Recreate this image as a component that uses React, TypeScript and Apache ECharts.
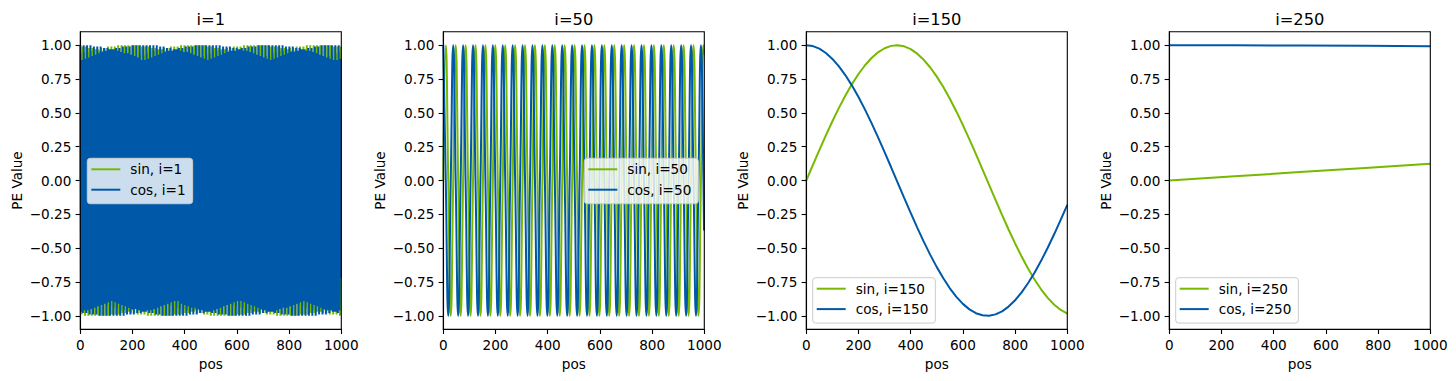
import React, { useEffect, useRef } from "react";
import * as echarts from "echarts";

// ---------- data ----------
const panelLabels = ["1", "50", "150", "250"];
const xTicks = [0, 200, 400, 600, 800, 1000];
const yTicks = [-1, -0.75, -0.5, -0.25, 0, 0.25, 0.5, 0.75, 1];

// i=1 : one value per pos (0..999)
const sin1 = [
0,.82,.94,.25,-.66,-.99,-.48,.45,.99,.68,-.22,-.93,-.84,
-.03,.81,.95,.27,-.64,-1,-.5,.43,.99,.69,-.19,-.92,-.85,
-.05,.79,.95,.29,-.62,-1,-.52,.41,.98,.71,-.17,-.91,-.86,
-.08,.78,.96,.32,-.6,-1,-.54,.38,.98,.73,-.14,-.9,-.88,
-.1,.76,.97,.34,-.58,-1,-.56,.36,.97,.75,-.12,-.88,-.89,
-.13,.74,.97,.37,-.55,-1,-.58,.33,.96,.77,-.09,-.87,-.9,
-.15,.72,.98,.39,-.53,-1,-.6,.31,.96,.78,-.07,-.86,-.91,
-.18,.71,.98,.41,-.51,-1,-.63,.29,.95,.8,-.04,-.84,-.92,
-.2,.69,.99,.44,-.49,-1,-.65,.26,.94,.81,-.02,-.83,-.93,
-.23,.67,.99,.46,-.47,-.99,-.66,.24,.93,.83,.01,-.82,-.94,
-.25,.65,.99,.48,-.44,-.99,-.68,.21,.92,.84,.04,-.8,-.95,
-.28,.63,1,.51,-.42,-.99,-.7,.18,.91,.85,.06,-.79,-.96,
-.3,.61,1,.53,-.4,-.98,-.72,.16,.9,.87,.09,-.77,-.96,
-.33,.59,1,.55,-.37,-.98,-.74,.13,.89,.88,.11,-.75,-.97,
-.35,.57,1,.57,-.35,-.97,-.76,.11,.88,.89,.14,-.74,-.98,
-.38,.55,1,.59,-.32,-.96,-.77,.08,.87,.9,.16,-.72,-.98,
-.4,.52,1,.61,-.3,-.95,-.79,.06,.85,.91,.19,-.7,-.99,
-.42,.5,1,.63,-.28,-.95,-.8,.03,.84,.93,.21,-.68,-.99,
-.45,.48,.99,.65,-.25,-.94,-.82,.01,.83,.93,.24,-.66,-.99,
-.47,.46,.99,.67,-.23,-.93,-.83,-.02,.81,.94,.26,-.64,-1,
-.49,.43,.99,.69,-.2,-.92,-.85,-.05,.79,.95,.29,-.62,-1,
-.52,.41,.98,.71,-.18,-.91,-.86,-.07,.78,.96,.31,-.6,-1,
-.54,.39,.98,.73,-.15,-.9,-.87,-.1,.76,.97,.34,-.58,-1,
-.56,.36,.97,.74,-.12,-.89,-.89,-.12,.75,.97,.36,-.56,-1,
-.58,.34,.97,.76,-.1,-.87,-.9,-.15,.73,.98,.39,-.54,-1,
-.6,.31,.96,.78,-.07,-.86,-.91,-.17,.71,.98,.41,-.52,-1,
-.62,.29,.95,.79,-.05,-.85,-.92,-.2,.69,.99,.43,-.49,-1,
-.64,.27,.94,.81,-.02,-.83,-.93,-.22,.67,.99,.46,-.47,-.99,
-.66,.24,.93,.82,0,-.82,-.94,-.25,.65,.99,.48,-.45,-.99,
-.68,.22,.93,.84,.03,-.8,-.95,-.27,.63,1,.5,-.43,-.99,
-.7,.19,.92,.85,.06,-.79,-.95,-.3,.61,1,.52,-.4,-.98,
-.72,.17,.9,.87,.08,-.77,-.96,-.32,.59,1,.55,-.38,-.98,
-.73,.14,.89,.88,.11,-.76,-.97,-.35,.57,1,.57,-.35,-.97,
-.75,.11,.88,.89,.13,-.74,-.97,-.37,.55,1,.59,-.33,-.96,
-.77,.09,.87,.9,.16,-.72,-.98,-.4,.53,1,.61,-.31,-.96,
-.78,.06,.86,.91,.18,-.7,-.98,-.42,.51,1,.63,-.28,-.95,
-.8,.04,.84,.92,.21,-.68,-.99,-.44,.49,1,.65,-.26,-.94,
-.82,.01,.83,.93,.23,-.67,-.99,-.47,.46,.99,.67,-.23,-.93,
-.83,-.01,.81,.94,.26,-.65,-1,-.49,.44,.99,.69,-.21,-.92,
-.84,-.04,.8,.95,.28,-.63,-1,-.51,.42,.98,.71,-.18,-.91,
-.86,-.07,.78,.96,.31,-.61,-1,-.53,.39,.98,.72,-.16,-.9,
-.87,-.09,.77,.96,.33,-.59,-1,-.55,.37,.97,.74,-.13,-.89,
-.88,-.12,.75,.97,.36,-.56,-1,-.57,.34,.97,.76,-.1,-.88,
-.89,-.14,.73,.98,.38,-.54,-1,-.6,.32,.96,.77,-.08,-.86,
-.91,-.17,.71,.98,.4,-.52,-1,-.62,.3,.95,.79,-.05,-.85,
-.92,-.19,.7,.99,.43,-.5,-1,-.64,.27,.95,.81,-.03,-.84,
-.93,-.22,.68,.99,.45,-.48,-.99,-.66,.25,.94,.82,0,-.82,
-.94,-.24,.66,.99,.47,-.45,-.99,-.68,.22,.93,.84,.02,-.81,
-.94,-.27,.64,1,.5,-.43,-.99,-.69,.2,.92,.85,.05,-.79,
-.95,-.29,.62,1,.52,-.41,-.98,-.71,.17,.91,.86,.08,-.78,
-.96,-.32,.6,1,.54,-.38,-.98,-.73,.15,.9,.88,.1,-.76,
-.97,-.34,.58,1,.56,-.36,-.97,-.75,.12,.88,.89,.13,-.74,
-.97,-.37,.56,1,.58,-.34,-.97,-.76,.09,.87,.9,.15,-.73,
-.98,-.39,.53,1,.6,-.31,-.96,-.78,.07,.86,.91,.18,-.71,
-.98,-.41,.51,1,.62,-.29,-.95,-.8,.04,.85,.92,.2,-.69,
-.99,-.44,.49,1,.64,-.26,-.94,-.81,.02,.83,.93,.23,-.67,
-.99,-.46,.47,.99,.66,-.24,-.93,-.83,-.01,.82,.94,.25,-.65,
-.99,-.48,.44,.99,.68,-.21,-.92,-.84,-.03,.8,.95,.28,-.63,
-1,-.51,.42,.99,.7,-.19,-.91,-.85,-.06,.79,.96,.3,-.61,
-1,-.53,.4,.98,.72,-.16,-.9,-.87,-.09,.77,.96,.33,-.59,
-1,-.55,.37,.98,.74,-.14,-.89,-.88,-.11,.75,.97,.35,-.57,
-1,-.57,.35,.97,.75,-.11,-.88,-.89,-.14,.74,.98,.38,-.55,
-1,-.59,.33,.96,.77,-.08,-.87,-.9,-.16,.72,.98,.4,-.53,
-1,-.61,.3,.96,.79,-.06,-.85,-.91,-.19,.7,.99,.42,-.5,
-1,-.63,.28,.95,.8,-.03,-.84,-.92,-.21,.68,.99,.45,-.48,
-.99,-.65,.25,.94,.82,-.01,-.83,-.93,-.24,.66,.99,.47,-.46,
-.99,-.67,.23,.93,.83,.02,-.81,-.94,-.26,.64,1,.49,-.44,
-.99,-.69,.2,.92,.85,.04,-.8,-.95,-.29,.62,1,.51,-.41,
-.98,-.71,.18,.91,.86,.07,-.78,-.96,-.31,.6,1,.54,-.39,
-.98,-.73,.15,.9,.87,.1,-.76,-.97,-.34,.58,1,.56,-.36,
-.97,-.74,.13,.89,.88,.12,-.75,-.97,-.36,.56,1,.58,-.34,
-.97,-.76,.1,.87,.9,.15,-.73,-.98,-.38,.54,1,.6,-.32,
-.96,-.78,.07,.86,.91,.17,-.71,-.98,-.41,.52,1,.62,-.29,
-.95,-.79,.05,.85,.92,.2,-.69,-.99,-.43,.5,1,.64,-.27,
-.94,-.81,.02,.83,.93,.22,-.67,-.99,-.46,.47,.99,.66,-.24,
-.94,-.82,0,.82,.94,.25,-.65,-.99,-.48,.45,.99,.68,-.22,
-.93,-.84,-.03,.8,.95,.27,-.64,-1,-.5,.43,.99,.7
];
const cos1 = [
1,.57,-.35,-.97,-.75,.11,.88,.89,.14,-.74,-.98,-.37,.55,
1,.59,-.33,-.96,-.77,.09,.87,.9,.16,-.72,-.98,-.4,.53,
1,.61,-.3,-.96,-.79,.06,.85,.91,.19,-.7,-.99,-.42,.5,
1,.63,-.28,-.95,-.8,.03,.84,.92,.21,-.68,-.99,-.45,.48,
.99,.65,-.25,-.94,-.82,.01,.83,.93,.24,-.66,-.99,-.47,.46,
.99,.67,-.23,-.93,-.83,-.02,.81,.94,.26,-.64,-1,-.49,.44,
.99,.69,-.2,-.92,-.85,-.04,.8,.95,.29,-.62,-1,-.51,.41,
.98,.71,-.18,-.91,-.86,-.07,.78,.96,.31,-.6,-1,-.54,.39,
.98,.73,-.15,-.9,-.87,-.09,.76,.97,.34,-.58,-1,-.56,.37,
.97,.74,-.13,-.89,-.88,-.12,.75,.97,.36,-.56,-1,-.58,.34,
.97,.76,-.1,-.88,-.9,-.15,.73,.98,.38,-.54,-1,-.6,.32,
.96,.78,-.07,-.86,-.91,-.17,.71,.98,.41,-.52,-1,-.62,.29,
.95,.79,-.05,-.85,-.92,-.2,.69,.99,.43,-.5,-1,-.64,.27,
.94,.81,-.02,-.83,-.93,-.22,.67,.99,.45,-.47,-.99,-.66,.24,
.94,.82,0,-.82,-.94,-.25,.66,.99,.48,-.45,-.99,-.68,.22,
.93,.84,.03,-.81,-.95,-.27,.64,1,.5,-.43,-.99,-.7,.19,
.92,.85,.05,-.79,-.95,-.3,.62,1,.52,-.4,-.98,-.72,.17,
.91,.86,.08,-.77,-.96,-.32,.6,1,.54,-.38,-.98,-.73,.14,
.89,.88,.11,-.76,-.97,-.35,.57,1,.56,-.36,-.97,-.75,.12,
.88,.89,.13,-.74,-.97,-.37,.55,1,.59,-.33,-.96,-.77,.09,
.87,.9,.16,-.72,-.98,-.39,.53,1,.61,-.31,-.96,-.78,.07,
.86,.91,.18,-.7,-.98,-.42,.51,1,.63,-.28,-.95,-.8,.04,
.84,.92,.21,-.69,-.99,-.44,.49,1,.65,-.26,-.94,-.81,.01,
.83,.93,.23,-.67,-.99,-.46,.46,.99,.67,-.23,-.93,-.83,-.01,
.81,.94,.26,-.65,-1,-.49,.44,.99,.69,-.21,-.92,-.84,-.04,
.8,.95,.28,-.63,-1,-.51,.42,.98,.7,-.18,-.91,-.86,-.06,
.78,.96,.31,-.61,-1,-.53,.4,.98,.72,-.16,-.9,-.87,-.09,
.77,.96,.33,-.59,-1,-.55,.37,.97,.74,-.13,-.89,-.88,-.12,
.75,.97,.35,-.57,-1,-.57,.35,.97,.76,-.11,-.88,-.89,-.14,
.73,.98,.38,-.54,-1,-.59,.32,.96,.77,-.08,-.87,-.91,-.17,
.72,.98,.4,-.52,-1,-.61,.3,.95,.79,-.05,-.85,-.92,-.19,
.7,.99,.43,-.5,-1,-.64,.27,.95,.8,-.03,-.84,-.93,-.22,
.68,.99,.45,-.48,-.99,-.65,.25,.94,.82,0,-.82,-.94,-.24,
.66,.99,.47,-.46,-.99,-.67,.22,.93,.83,.02,-.81,-.94,-.27,
.64,1,.49,-.43,-.99,-.69,.2,.92,.85,.05,-.79,-.95,-.29,
.62,1,.52,-.41,-.98,-.71,.17,.91,.86,.07,-.78,-.96,-.32,
.6,1,.54,-.39,-.98,-.73,.15,.9,.87,.1,-.76,-.97,-.34,
.58,1,.56,-.36,-.97,-.75,.12,.89,.89,.12,-.74,-.97,-.36,
.56,1,.58,-.34,-.97,-.76,.1,.87,.9,.15,-.73,-.98,-.39,
.54,1,.6,-.31,-.96,-.78,.07,.86,.91,.18,-.71,-.98,-.41,
.51,1,.62,-.29,-.95,-.8,.05,.85,.92,.2,-.69,-.99,-.44,
.49,1,.64,-.26,-.94,-.81,.02,.83,.93,.23,-.67,-.99,-.46,
.47,.99,.66,-.24,-.93,-.83,-.01,.82,.94,.25,-.65,-.99,-.48,
.45,.99,.68,-.21,-.92,-.84,-.03,.8,.95,.28,-.63,-1,-.5,
.42,.99,.7,-.19,-.91,-.85,-.06,.79,.96,.3,-.61,-1,-.53,
.4,.98,.72,-.16,-.9,-.87,-.08,.77,.96,.33,-.59,-1,-.55,
.38,.98,.74,-.14,-.89,-.88,-.11,.75,.97,.35,-.57,-1,-.57,
.35,.97,.75,-.11,-.88,-.89,-.13,.74,.98,.37,-.55,-1,-.59,
.33,.96,.77,-.09,-.87,-.9,-.16,.72,.98,.4,-.53,-1,-.61,
.3,.96,.79,-.06,-.85,-.91,-.19,.7,.99,.42,-.51,-1,-.63,
.28,.95,.8,-.03,-.84,-.92,-.21,.68,.99,.44,-.48,-.99,-.65,
.25,.94,.82,-.01,-.83,-.93,-.24,.66,.99,.47,-.46,-.99,-.67,
.23,.93,.83,.02,-.81,-.94,-.26,.64,1,.49,-.44,-.99,-.69,
.2,.92,.85,.04,-.8,-.95,-.29,.62,1,.51,-.41,-.98,-.71,
.18,.91,.86,.07,-.78,-.96,-.31,.6,1,.53,-.39,-.98,-.72,
.15,.9,.87,.09,-.76,-.97,-.33,.58,1,.56,-.37,-.97,-.74,
.13,.89,.88,.12,-.75,-.97,-.36,.56,1,.58,-.34,-.97,-.76,
.1,.88,.9,.14,-.73,-.98,-.38,.54,1,.6,-.32,-.96,-.78,
.08,.86,.91,.17,-.71,-.98,-.41,.52,1,.62,-.29,-.95,-.79,
.05,.85,.92,.2,-.69,-.99,-.43,.5,1,.64,-.27,-.94,-.81,
.02,.84,.93,.22,-.68,-.99,-.45,.47,.99,.66,-.24,-.94,-.82,
0,.82,.94,.25,-.66,-.99,-.48,.45,.99,.68,-.22,-.93,-.84,
-.03,.81,.95,.27,-.64,-1,-.5,.43,.99,.7,-.19,-.92,-.85,
-.05,.79,.95,.3,-.62,-1,-.52,.41,.98,.71,-.17,-.91,-.86,
-.08,.77,.96,.32,-.6,-1,-.54,.38,.98,.73,-.14,-.9,-.88,
-.1,.76,.97,.34,-.58,-1,-.56,.36,.97,.75,-.12,-.88,-.89,
-.13,.74,.97,.37,-.55,-1,-.59,.33,.96,.77,-.09,-.87,-.9,
-.15,.72,.98,.39,-.53,-1,-.61,.31,.96,.78,-.07,-.86,-.91,
-.18,.71,.98,.42,-.51,-1,-.63,.28,.95,.8,-.04,-.84,-.92,
-.21,.69,.99,.44,-.49,-1,-.65,.26,.94,.81,-.02,-.83,-.93,
-.23,.67,.99,.46,-.47,-.99,-.67,.23,.93,.83,.01,-.82,-.94,
-.26,.65,1,.48,-.44,-.99,-.68,.21,.92,.84,.04,-.8,-.95,
-.28,.63,1,.51,-.42,-.99,-.7,.18,.91,.86,.06,-.78,-.96,
-.31,.61,1,.53,-.4,-.98,-.72,.16,.9,.87,.09,-.77,-.96,
-.33,.59,1,.55,-.37,-.97,-.74,.13,.89,.88,.11,-.75,-.97,
-.35,.57,1,.57,-.35,-.97,-.76,.11,.88,.89,.14,-.73,-.98,
-.38,.55,1,.59,-.32,-.96,-.77,.08,.87,.9,.16,-.72
];

// i=50 : peaks, troughs and zero crossings
const pos50 = [0,9.5,19,28.5,38,47.5,57,66.4,75.9,85.4,94.9,104.4,113.9,123.4,132.9,142.4,151.9,161.4,170.9,180.4,189.8,199.3,208.8,218.3,227.8,237.3,246.8,256.3,265.8,275.3,284.8,294.3,303.8,313.2,322.7,332.2,341.7,351.2,360.7,370.2,379.7,389.2,398.7,408.2,417.7,427.2,436.6,446.1,455.6,465.1,474.6,484.1,493.6,503.1,512.6,522.1,531.6,541.1,550.6,560,569.5,579,588.5,598,607.5,617,626.5,636,645.5,655,664.5,674,683.4,692.9,702.4,711.9,721.4,730.9,740.4,749.9,759.4,768.9,778.4,787.9,797.4,806.8,816.3,825.8,835.3,844.8,854.3,863.8,873.3,882.8,892.3,901.8,911.3,920.7,930.2,939.7,949.2,958.7,968.2,977.7,987.2,996.7,999];
const sin50 = [0,1,0,-1,0,1,0,-1,0,1,0,-1,0,1,0,-1,0,1,0,-1,0,1,0,-1,0,1,0,-1,0,1,0,-1,0,1,0,-1,0,1,0,-1,0,1,0,-1,0,1,0,-1,0,1,0,-1,0,1,0,-1,0,1,0,-1,0,1,0,-1,0,1,0,-1,0,1,0,-1,0,1,0,-1,0,1,0,-1,0,1,0,-1,0,1,0,-1,0,1,0,-1,0,1,0,-1,0,1,0,-1,0,1,0,-1,0,1,.93];
const cos50 = [1,0,-1,0,1,0,-1,0,1,0,-1,0,1,0,-1,0,1,0,-1,0,1,0,-1,0,1,0,-1,0,1,0,-1,0,1,0,-1,0,1,0,-1,0,1,0,-1,0,1,0,-1,0,1,0,-1,0,1,0,-1,0,1,0,-1,0,1,0,-1,0,1,0,-1,0,1,0,-1,0,1,0,-1,0,1,0,-1,0,1,0,-1,0,1,0,-1,0,1,0,-1,0,1,0,-1,0,1,0,-1,0,1,0,-1,0,1,0,-.37];

// i=150
const pos150 = [0,25,50,75,100,125,150,175,200,225,250,275,300,325,350,375,400,425,450,475,500,525,550,575,600,625,650,675,700,725,750,775,800,825,850,875,900,925,950,975,1000];
const sin150 = [0,.113,.2246,.3333,.4379,.5367,.6286,.7125,.7872,.8519,.9057,.9478,.9778,.9952,.9999,.9917,.9709,.9375,.8922,.8355,.7681,.6906,.6043,.5106,.4099,.3042,.1946,.0825,-.0307,-.1435,-.2546,-.3622,-.4653,-.5624,-.6523,-.7337,-.8059,-.8677,-.9183,-.9572,-.9838];
const cos150 = [1,.9936,.9744,.9428,.899,.8438,.7777,.7016,.6167,.5237,.4239,.3188,.2096,.0978,-.0154,-.1283,-.2395,-.3479,-.4516,-.5497,-.6404,-.7231,-.7968,-.8599,-.9121,-.9526,-.9809,-.9966,-.9995,-.9897,-.9671,-.9321,-.8852,-.8268,-.7579,-.6794,-.5921,-.4972,-.3959,-.2895,-.1795];

// i=250
const pos250 = [0, 250, 500, 750, 999];
const sin250 = [0, 0.031, 0.062, 0.093, 0.124];
const cos250 = [1, 0.9995, 0.9981, 0.9957, 0.9923];

// ---------- style ----------
const SIN_COLOR = "#76b900";
const COS_COLOR = "#0059a8";
const FONT = "DejaVu Sans";
const FS = 13.6;

export default function App() {
  const ref = useRef<HTMLDivElement>(null);

  useEffect(() => {
    const chart = echarts.init(ref.current!, null, { renderer: "svg" });
    const lefts = [80.3, 443.3, 806.3, 1169.3];
    const top = 31.7;
    const w = 261;
    const h = 297.6;

    const panels = [
      { xs: sin1.map((_, i) => i), s: sin1, c: cos1, smooth: false },
      { xs: pos50, s: sin50, c: cos50, smooth: true },
      { xs: pos150, s: sin150, c: cos150, smooth: false },
      { xs: pos250, s: sin250, c: cos250, smooth: false },
    ];

    const legendPos: any[] = [
      { left: 87.3, top: 158.3 },
      { right: 757.7, top: 158.3 },
      { left: 812.7, top: 277.7 },
      { left: 1175.7, top: 277.7 },
    ];

    const fmtY = (v: number) => (v < 0 ? "\u2212" : "") + Math.abs(v).toFixed(2);

    const option: any = {
      animation: false,
      textStyle: { fontFamily: FONT },
      grid: lefts.map((l) => ({ left: l, top, width: w, height: h, containLabel: false })),
      xAxis: lefts.map((_, i) => ({
        type: "value",
        gridIndex: i,
        min: xTicks[0],
        max: xTicks[xTicks.length - 1],
        interval: 200,
        name: "pos",
        nameLocation: "middle",
        nameGap: 27,
        nameTextStyle: { fontSize: FS, color: "#000", fontFamily: FONT },
        axisLine: { show: true, onZero: false, lineStyle: { color: "#000", width: 1.1 } },
        axisTick: { show: true, length: 4.7, lineStyle: { color: "#000", width: 1.1 } },
        axisLabel: { fontSize: FS, color: "#000", fontFamily: FONT, margin: 9, formatter: (v: number) => String(v) },
        splitLine: { show: false },
      })),
      yAxis: lefts.map((_, i) => ({
        type: "value",
        gridIndex: i,
        min: -1.1,
        max: 1.1,
        name: "PE Value",
        nameLocation: "middle",
        nameRotate: 90,
        nameGap: 56,
        nameTextStyle: { fontSize: FS, color: "#000", fontFamily: FONT },
        axisLine: { show: true, onZero: false, lineStyle: { color: "#000", width: 1.1 } },
        axisTick: { show: true, length: 4.7, customValues: yTicks, lineStyle: { color: "#000", width: 1.1 } },
        axisLabel: { fontSize: FS, color: "#000", fontFamily: FONT, margin: 9, customValues: yTicks, formatter: fmtY },
        splitLine: { show: false },
      })),
      legend: panels.map((_, i) => ({
        ...legendPos[i],
        orient: "vertical",
        data: ["sin, i=" + panelLabels[i], "cos, i=" + panelLabels[i]],
        icon: "rect",
        itemWidth: 29,
        itemHeight: 2,
        itemGap: 6.4,
        padding: [4, 7, 7, 4],
        backgroundColor: "rgba(255,255,255,0.8)",
        borderColor: "#cccccc",
        borderWidth: 1,
        borderRadius: 3,
        selectedMode: false,
        z: 10,
        textStyle: { fontSize: FS, color: "#000", fontFamily: FONT, lineHeight: 14, padding: [0, 0, 0, 5] },
      })),
      series: panels.flatMap((p, i) => [
        {
          name: "sin, i=" + panelLabels[i],
          type: "line",
          xAxisIndex: i,
          yAxisIndex: i,
          data: p.xs.map((x, j) => [x, p.s[j]]),
          showSymbol: false,
          symbol: "none",
          smooth: p.smooth,
          silent: true,
          color: SIN_COLOR,
          lineStyle: { color: SIN_COLOR, width: 2 },
        },
        {
          name: "cos, i=" + panelLabels[i],
          type: "line",
          xAxisIndex: i,
          yAxisIndex: i,
          data: p.xs.map((x, j) => [x, p.c[j]]),
          showSymbol: false,
          symbol: "none",
          smooth: p.smooth,
          silent: true,
          color: COS_COLOR,
          lineStyle: { color: COS_COLOR, width: 2 },
        },
      ]),
      graphic: [
        ...lefts.map((l) => ({
          type: "rect",
          silent: true,
          z: 100,
          shape: { x: l, y: top, width: w, height: h },
          style: { fill: "none", stroke: "#000", lineWidth: 1.1 },
        })),
        ...lefts.map((l, i) => ({
          type: "text",
          silent: true,
          z: 100,
          x: l + w / 2,
          y: 19,
          style: {
            text: "i=" + panelLabels[i],
            fontSize: 16.3,
            fontFamily: FONT,
            fill: "#000",
            textAlign: "center",
            textVerticalAlign: "middle",
            align: "center",
            verticalAlign: "middle",
          },
        })),
      ],
    };

    chart.setOption(option);
    return () => chart.dispose();
  }, []);

  return (
    <div
      ref={ref}
      style={{ position: "fixed", left: 0, top: 0, width: 1456, height: 381, background: "#fff" }}
    />
  );
}
